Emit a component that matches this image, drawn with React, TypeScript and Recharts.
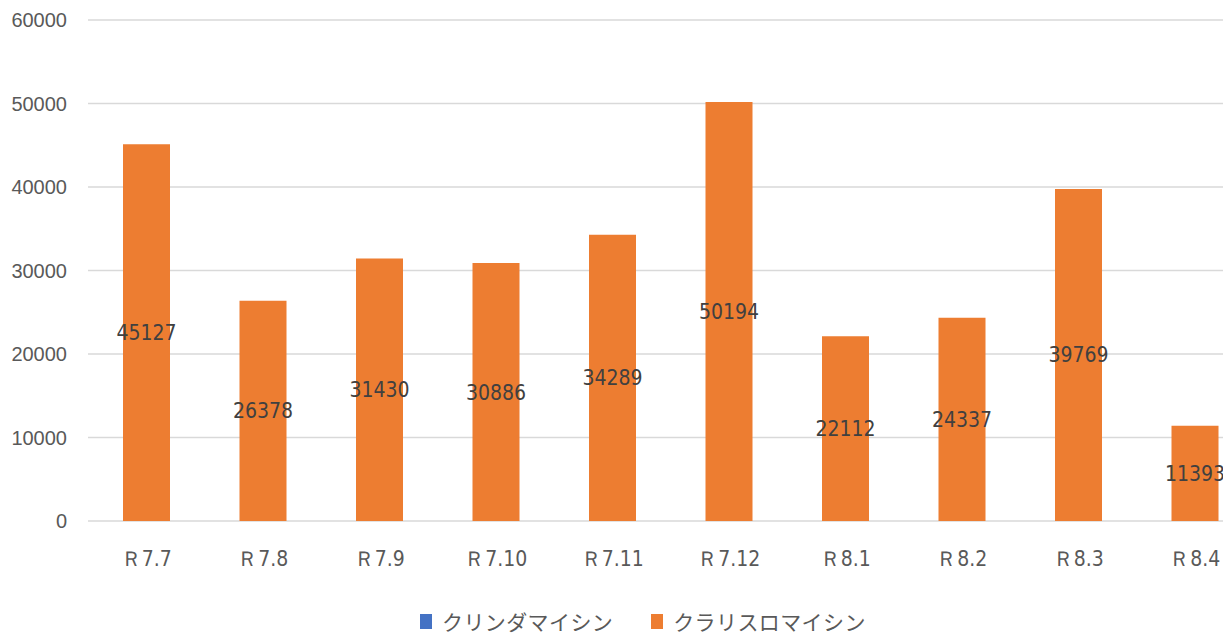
import React from "react";
import { BarChart, Bar, XAxis, YAxis, CartesianGrid, LabelList } from "recharts";

const categories = ["Ｒ7.7", "Ｒ7.8", "Ｒ7.9", "Ｒ7.10", "Ｒ7.11", "Ｒ7.12", "Ｒ8.1", "Ｒ8.2", "Ｒ8.3", "Ｒ8.4"];
const clindamycin = [0, 0, 0, 0, 0, 0, 0, 0, 0, 0];
const clarithromycin = [45127, 26378, 31430, 30886, 34289, 50194, 22112, 24337, 39769, 11393];
const yTicks = [0, 10000, 20000, 30000, 40000, 50000, 60000];
const seriesNames = ["クリンダマイシン", "クラリスロマイシン"];
const seriesColors = ["#4472C4", "#ED7D31"];

const data = categories.map((c, i) => ({
  name: c,
  clinda: clindamycin[i],
  clari: clarithromycin[i],
}));

const numFont = "'Liberation Sans', 'Noto Sans', sans-serif";
const narrowFont = "'Liberation Sans Narrow', 'DejaVu Sans Condensed', 'Liberation Sans', sans-serif";
const jpFont = "'Noto Sans CJK JP', sans-serif";

export default function App() {
  return (
    <div style={{ position: "absolute", left: 0, top: 0, width: 1223, height: 633, overflow: "hidden", background: "#fff" }}>
      <BarChart width={1270} height={633} data={data} margin={{ top: 20, right: 17, bottom: 0, left: 0 }}>
        <CartesianGrid vertical={false} stroke="#D9D9D9" strokeWidth={1.5} />
        <XAxis
          dataKey="name"
          height={112}
          axisLine={false}
          tickLine={false}
          tickSize={0}
          tickMargin={30}
          interval={0}
          tick={{ fill: "#595959", fontSize: 21, fontFamily: narrowFont }}
        />
        <YAxis
          width={88}
          domain={[0, 60000]}
          ticks={yTicks}
          axisLine={false}
          tickLine={false}
          tickSize={0}
          tickMargin={21}
          tick={{ fill: "#595959", fontSize: 20, fontFamily: numFont }}
        />
        <Bar dataKey="clinda" stackId="a" fill={seriesColors[0]} barSize={47} isAnimationActive={false} />
        <Bar dataKey="clari" stackId="a" fill={seriesColors[1]} barSize={47} isAnimationActive={false}>
          <LabelList dataKey="clari" position="center" fill="#404040" fontSize={21} fontFamily={narrowFont} />
        </Bar>
      </BarChart>
      <div style={{ position: "absolute", left: 420, top: 611, display: "flex", alignItems: "center", fontFamily: jpFont, fontSize: 21, lineHeight: "21px", color: "#595959", letterSpacing: 0.4 }}>
        {seriesNames.map((n, i) => (
          <div key={n} style={{ display: "flex", alignItems: "center", marginRight: 38 }}>
            <span style={{ display: "inline-block", width: 12, height: 15, background: seriesColors[i], marginRight: 10 }} />
            <span>{n}</span>
          </div>
        ))}
      </div>
    </div>
  );
}
